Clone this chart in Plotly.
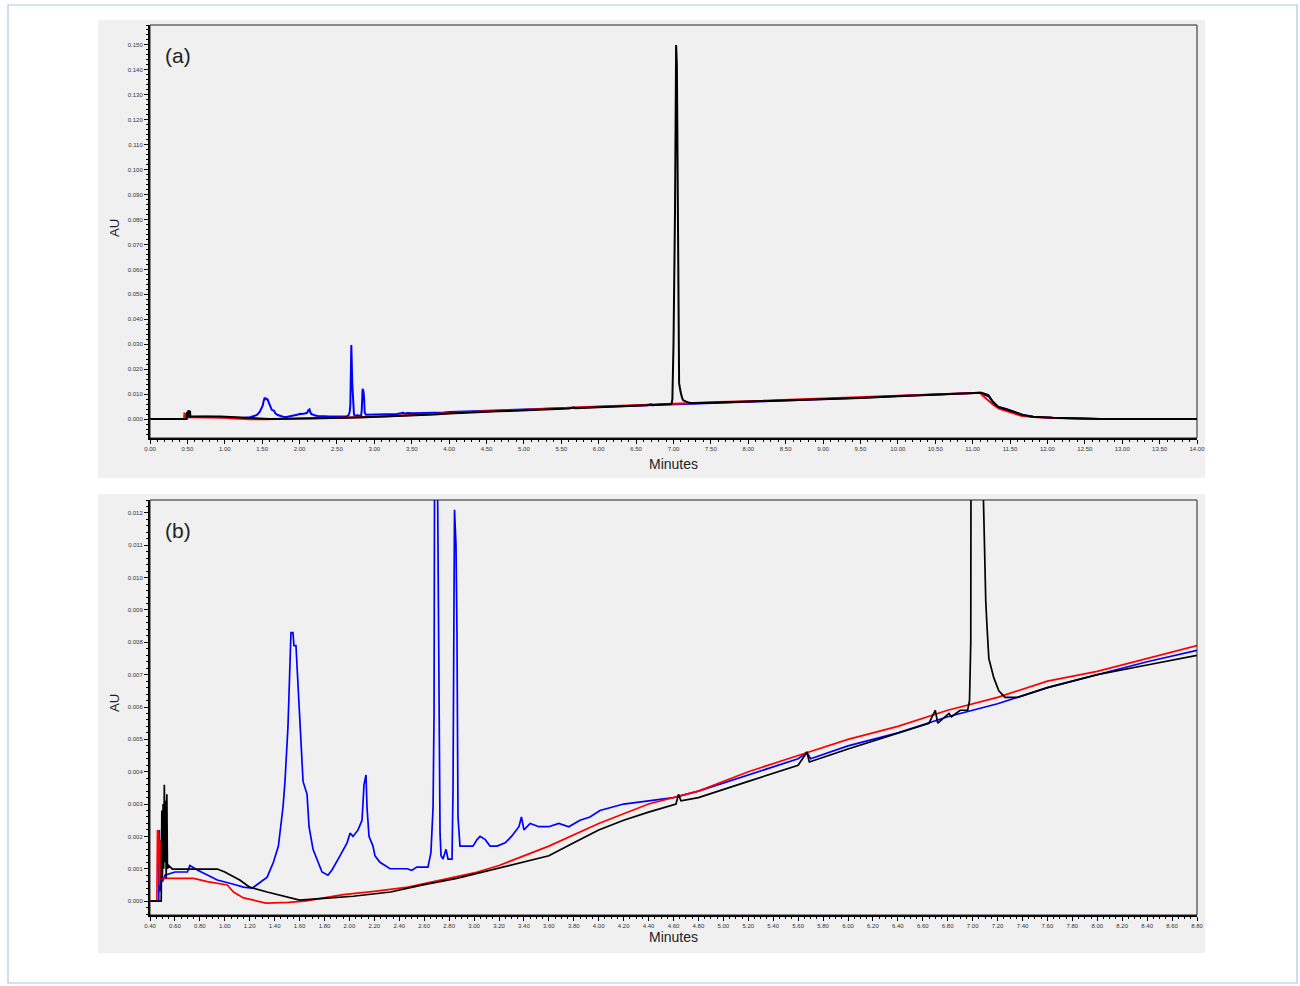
import plotly.graph_objects as go

# ---------------- data (minutes, AU) ----------------
blue_t = [0.00, 0.40, 0.47, 0.475, 0.48, 0.49, 0.50, 0.52, 0.60, 0.70, 0.72, 0.78, 0.86, 0.94,
          1.07, 1.15, 1.22, 1.28, 1.34, 1.39, 1.43, 1.467, 1.483, 1.507, 1.515, 1.531, 1.547,
          1.555, 1.571, 1.587, 1.603, 1.620, 1.628, 1.660, 1.676, 1.708, 1.748, 1.780, 1.828,
          1.860, 1.924, 1.981, 2.005, 2.029, 2.069, 2.101, 2.117, 2.133, 2.141, 2.157, 2.189,
          2.205, 2.245, 2.301, 2.326, 2.40, 2.462, 2.50, 2.54, 2.59, 2.630, 2.654, 2.671, 2.679,
          2.692, 2.705, 2.715, 2.727, 2.735, 2.751, 2.775, 2.791, 2.823, 2.831, 2.843, 2.855,
          2.863, 2.871, 2.887, 2.95, 2.991, 3.024, 3.048, 3.09, 3.128, 3.184, 3.25, 3.30, 3.36,
          3.38, 3.40, 3.45, 3.52, 3.60, 3.68, 3.76, 3.85, 3.93, 4.01, 4.20, 4.40, 4.60, 4.80,
          5.20, 5.60, 5.67, 5.70, 6.00, 6.40, 6.80, 7.20, 7.60, 8.00, 8.40, 8.80, 9.50, 10.00,
          10.50, 11.00, 11.10, 11.15, 11.22, 11.27, 11.34, 11.46, 11.57, 11.67, 11.81, 12.07,
          12.70, 14.00]
blue_au = [0.0, 0.0, 0.0, 0.0022, 0.0003, 0.0014, 0.0006, 0.0008, 0.0009, 0.0009, 0.0011, 0.00096, 0.0008, 0.00065,
           0.00052, 0.00043, 0.0004, 0.00056, 0.00074, 0.0012, 0.0017, 0.0029, 0.0037, 0.0054, 0.0066, 0.0083, 0.0083,
           0.0079, 0.0079, 0.0067, 0.0055, 0.0043, 0.0037, 0.0033, 0.0023, 0.0016, 0.0012, 0.0009, 0.0008,
           0.00096, 0.0014, 0.0018, 0.0021, 0.0020, 0.0022, 0.0025, 0.0036, 0.0039, 0.0029, 0.0020, 0.0017,
           0.0014, 0.0012, 0.00105, 0.0010, 0.0010, 0.0010, 0.00095, 0.00105, 0.00105, 0.00105, 0.0015, 0.0029, 0.0058,
           0.0297, 0.0140, 0.0077, 0.0021, 0.0014, 0.0013, 0.0016, 0.0013, 0.0013, 0.0034, 0.0121, 0.0110,
           0.0082, 0.0026, 0.0017, 0.0017, 0.0017, 0.0019, 0.0020, 0.0019, 0.0017, 0.0017, 0.0018, 0.0020, 0.0023,
           0.0026, 0.0022, 0.0024, 0.0023, 0.0023, 0.0024, 0.0023, 0.0025, 0.0026, 0.0028, 0.0030, 0.0031, 0.0032, 0.0034,
           0.0039, 0.0044, 0.0046, 0.0044, 0.0048, 0.0052, 0.0057, 0.0061, 0.0066, 0.0070, 0.0074, 0.00775, 0.0085, 0.0092,
           0.0098, 0.0104, 0.0105, 0.0098, 0.0090, 0.0069, 0.0049, 0.0039, 0.0027, 0.0016, 0.0009, 0.0005,
           0.0, 0.0]

red_t = [0.00, 0.40, 0.455, 0.46, 0.47, 0.475, 0.48, 0.49, 0.55, 0.75, 0.86, 1.02, 1.07, 1.15,
         1.33, 1.51, 1.64, 1.95, 2.20, 2.47, 2.73, 3.00, 3.20, 3.60, 4.00, 4.40, 4.80, 5.20,
         5.60, 6.00, 6.40, 6.80, 7.20, 7.60, 8.00, 8.40, 8.80, 9.50, 10.00, 10.50, 11.00, 11.10,
         11.13, 11.20, 11.27, 11.35, 11.45, 11.55, 11.65, 11.80, 12.10, 12.70, 14.00]
red_au = [0.0, 0.0, 0.0, 0.0022, 0.0021, 0.0005, 0.0019, 0.0007, 0.0007, 0.0007, 0.0006, 0.0005, 0.00028, 0.0001,
          -0.00006, -0.00004, 0.0, 0.0002, 0.0003, 0.00043, 0.00065, 0.00087, 0.0011, 0.0017, 0.0024, 0.0030, 0.0034, 0.0040,
          0.0045, 0.0050, 0.0054, 0.0059, 0.0063, 0.0068, 0.0071, 0.0075, 0.0079, 0.0087, 0.0093, 0.0099, 0.0104, 0.0105,
          0.0095, 0.0075, 0.0058, 0.0042, 0.0032, 0.0022, 0.0013, 0.0008, 0.0004, 0.0, 0.0]

black_t = [0.00, 0.40, 0.49, 0.495, 0.50, 0.505, 0.51, 0.515, 0.52, 0.525, 0.53, 0.535, 0.54, 0.55,
           0.58, 0.94, 1.00, 1.12, 1.20, 1.34, 1.52, 1.60, 1.82, 2.03, 2.33, 2.59, 2.86, 3.13,
           3.40, 3.60, 3.80, 4.00, 4.20, 4.40, 4.62, 4.64, 4.66, 4.80, 5.20, 5.60, 5.67, 5.69,
           6.00, 6.40, 6.65, 6.70, 6.72, 6.75, 6.81, 6.83, 6.90, 6.96, 6.975, 6.985, 7.00, 7.02,
           7.035, 7.045, 7.055, 7.065, 7.075, 7.095, 7.105, 7.115, 7.13, 7.17, 7.21, 7.26, 7.36,
           7.60, 8.00, 8.40, 8.80, 9.50, 10.00, 10.50, 11.00, 11.12, 11.21, 11.27, 11.34, 11.46,
           11.57, 11.67, 11.81, 12.07, 12.70, 14.00]
black_au = [0.0, 0.0, 0.0, 0.0028, 0.0008, 0.0030, 0.0010, 0.0036, 0.0012, 0.0031, 0.0007, 0.0033, 0.0010, 0.0011,
            0.00099, 0.00099, 0.0009, 0.00065, 0.00043, 0.00028, 0.0001, 0.00003, 0.00009, 0.00015, 0.00028, 0.0005, 0.0007, 0.00096,
            0.0012, 0.0014, 0.0018, 0.0022, 0.0025, 0.00275, 0.0030, 0.0033, 0.0031, 0.0032, 0.0037, 0.0042, 0.0046, 0.0043,
            0.0047, 0.0052, 0.0055, 0.0059, 0.0055, 0.0056, 0.0058, 0.0057, 0.0059, 0.0059, 0.0062, 0.0080, 0.030, 0.083,
            0.150, 0.142, 0.083, 0.0425, 0.0144, 0.0108, 0.0093, 0.0085, 0.0075, 0.0069, 0.0065, 0.0063, 0.0063,
            0.0066, 0.0070, 0.0073, 0.0076, 0.0084, 0.0091, 0.0097, 0.0103, 0.0105, 0.0096, 0.0069, 0.0049, 0.0039,
            0.0027, 0.0016, 0.0009, 0.0005, 0.0, 0.0]

traces = [("blue", blue_t, blue_au), ("red", red_t, red_au), ("black", black_t, black_au)]
panel_labels = ["(a)", "(b)"]
x_title = "Minutes"
y_title = "AU"

# ---------------- figure ----------------
W, H = 1300, 986
def px(x):
    return x / W
def py(y):
    return 1 - y / H

fig = go.Figure()
for col, t, v in traces:
    fig.add_trace(go.Scatter(x=t, y=v, mode="lines", line=dict(color=col, width=2),
                             xaxis="x", yaxis="y", showlegend=False, hoverinfo="skip"))
for col, t, v in traces:
    fig.add_trace(go.Scatter(x=t, y=v, mode="lines", line=dict(color=col, width=1.7),
                             xaxis="x2", yaxis="y2", showlegend=False, hoverinfo="skip"))

tickfont = dict(family="Liberation Sans, Arial, sans-serif", size=6, color="#333")
common_axis = dict(showgrid=False, zeroline=False, showline=True, linecolor="black", linewidth=2,
                   ticks="outside", ticklen=4, tickwidth=1, tickcolor="black", tickfont=tickfont,
                   automargin=False)

fig.update_layout(
    template="none",
    width=W, height=H,
    autosize=False,
    margin=dict(l=0, r=0, t=0, b=0, pad=0),
    paper_bgcolor="white",
    plot_bgcolor="#f0f0f0",
    xaxis=dict(common_axis, domain=[px(150), px(1197)], anchor="y", range=[0, 14],
               dtick=0.5, tick0=0, tickformat=".2f",
               minor=dict(dtick=0.1, ticklen=2, tickcolor="black", ticks="outside")),
    yaxis=dict(common_axis, domain=[py(438), py(25)], anchor="x", range=[-0.0076, 0.158],
               dtick=0.01, tick0=0, tickformat=".3f",
               minor=dict(dtick=0.002, ticklen=2, tickcolor="black", ticks="outside")),
    xaxis2=dict(common_axis, domain=[px(150), px(1197)], anchor="y2", range=[0.4, 8.8],
                dtick=0.2, tick0=0.4, tickformat=".2f",
                minor=dict(dtick=0.05, ticklen=2, tickcolor="black", ticks="outside")),
    yaxis2=dict(common_axis, domain=[py(915), py(500)], anchor="x2", range=[-0.00043, 0.0124],
                dtick=0.001, tick0=0, tickformat=".3f",
                minor=dict(dtick=0.0002, ticklen=2, tickcolor="black", ticks="outside")),
)

shapes = [
    dict(type="rect", xref="paper", yref="paper", x0=px(8), x1=px(1297), y0=py(983), y1=py(5),
         line=dict(color="#a9c7e4", width=1.2), fillcolor="rgba(0,0,0,0)", layer="below"),
    dict(type="rect", xref="paper", yref="paper", x0=px(98), x1=px(1205), y0=py(478), y1=py(20),
         line=dict(width=0), fillcolor="#f0f0f0", layer="below"),
    dict(type="rect", xref="paper", yref="paper", x0=px(98), x1=px(1205), y0=py(953), y1=py(494),
         line=dict(width=0), fillcolor="#f0f0f0", layer="below"),
    dict(type="rect", xref="x domain", yref="y domain", x0=0, x1=1, y0=0, y1=1,
         line=dict(color="#222", width=1), fillcolor="rgba(0,0,0,0)"),
    dict(type="rect", xref="x2 domain", yref="y2 domain", x0=0, x1=1, y0=0, y1=1,
         line=dict(color="#222", width=1), fillcolor="rgba(0,0,0,0)"),
]
fig.update_layout(shapes=shapes)

ann_font = dict(family="Liberation Sans, Arial, sans-serif", color="#222")
annotations = [
    dict(text=panel_labels[0], x=px(163), y=py(55), xref="paper", yref="paper", showarrow=False,
         xanchor="left", yanchor="middle", font=dict(ann_font, size=21)),
    dict(text=panel_labels[1], x=px(163), y=py(530), xref="paper", yref="paper", showarrow=False,
         xanchor="left", yanchor="middle", font=dict(ann_font, size=21)),
    dict(text=y_title, x=px(114), y=py(228), xref="paper", yref="paper", showarrow=False,
         textangle=-90, xanchor="center", yanchor="middle", font=dict(ann_font, size=13)),
    dict(text=y_title, x=px(114), y=py(703), xref="paper", yref="paper", showarrow=False,
         textangle=-90, xanchor="center", yanchor="middle", font=dict(ann_font, size=13)),
    dict(text=x_title, x=px(673), y=py(464), xref="paper", yref="paper", showarrow=False,
         xanchor="center", yanchor="middle", font=dict(ann_font, size=14)),
    dict(text=x_title, x=px(673), y=py(937), xref="paper", yref="paper", showarrow=False,
         xanchor="center", yanchor="middle", font=dict(ann_font, size=14)),
]
fig.update_layout(annotations=annotations)

fig.write_html("out.html",
               config={"displayModeBar": False},
               post_script="document.body.style.margin='0';document.body.style.overflow='hidden';")
